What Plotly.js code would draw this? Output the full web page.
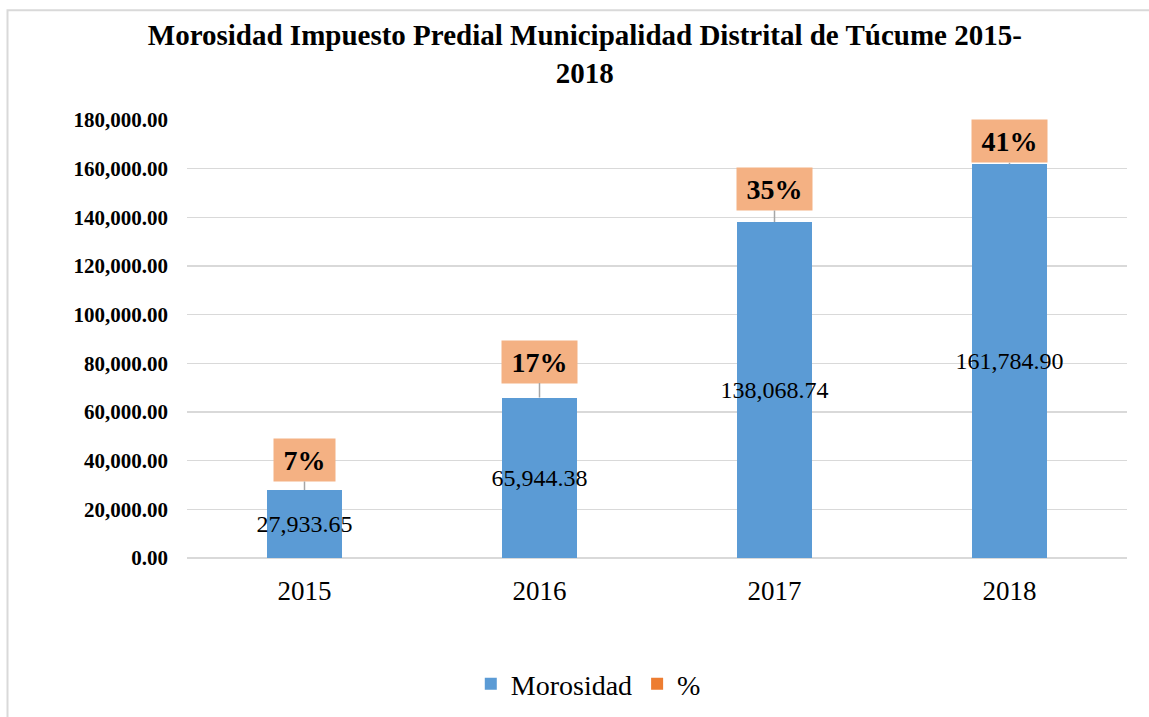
<!DOCTYPE html>
<html>
<head>
<meta charset="utf-8">
<script src="https://cdn.plot.ly/plotly-3.0.1.min.js"></script>
<style>
  html, body { margin: 0; padding: 0; background: #ffffff; }
  #chart { width: 1149px; height: 717px; }
</style>
</head>
<body>
<div id="chart"></div>
<script>
// ---- data ----
const years = ["2015", "2016", "2017", "2018"];
const morosidad = [27933.65, 65944.38, 138068.74, 161784.90];
const percent = [0.07, 0.17, 0.35, 0.41];
const percentLabels = ["7%", "17%", "35%", "41%"];

// ---- style ----
const FONT = "Liberation Serif, Times New Roman, serif";
const labelRise = [30, 36, 33, 23];   // vertical offset of % label centre above bar top (px)

const traces = [
  {
    type: "bar",
    name: "Morosidad",
    x: years,
    y: morosidad,
    marker: { color: "#5B9BD5" },
    texttemplate: "%{y:,.2f}",
    textposition: "inside",
    insidetextanchor: "middle",
    textangle: 0,
    constraintext: "none",
    textfont: { family: FONT, size: 24, color: "#000000" },
    hoverinfo: "x+y"
  },
  {
    type: "bar",
    name: "%",
    x: years,
    y: percent,
    marker: { color: "#ED7D31" },
    hoverinfo: "x+y"
  }
];

const annotations = years.map((yr, i) => ({
  x: i,
  y: morosidad[i],
  xref: "x",
  yref: "y",
  text: "<b>" + percentLabels[i] + "</b>",
  font: { family: FONT, size: 28, color: "#000000" },
  bgcolor: "#F4B183",
  borderpad: 3,
  width: percentLabels[i].length * 14 + 27,
  height: 36,
  showarrow: true,
  arrowhead: 0,
  arrowwidth: 1.5,
  arrowcolor: "#A6A6A6",
  ax: 0,
  ay: -labelRise[i],
  standoff: 0
}));

const layout = {
  width: 1149,
  height: 717,
  paper_bgcolor: "#ffffff",
  plot_bgcolor: "#ffffff",
  margin: { l: 187, r: 22, t: 120, b: 159, pad: 0 },
  barmode: "stack",
  bargap: 0.685,
  font: { family: FONT, color: "#000000" },
  title: {
    text: "<b>Morosidad Impuesto Predial Municipalidad Distrital de Túcume 2015-<br>2018</b>",
    font: { family: FONT, size: 29, color: "#000000" },
    x: 0.509,
    xref: "container",
    xanchor: "center",
    y: 1 - 45 / 717,
    yref: "container",
    yanchor: "top"
  },
  xaxis: {
    type: "category",
    categoryorder: "array",
    categoryarray: years,
    range: [-0.5, 3.5],
    showgrid: false,
    zeroline: false,
    showline: false,
    ticks: "",
    tickfont: { family: FONT, size: 27, color: "#000000" },
    ticklabelstandoff: 14
  },
  yaxis: {
    range: [0, 180000],
    dtick: 20000,
    tick0: 0,
    tickformat: ",.2f",
    showgrid: true,
    gridcolor: "#D9D9D9",
    gridwidth: 1.5,
    zeroline: true,
    zerolinecolor: "#D9D9D9",
    zerolinewidth: 1.5,
    showline: false,
    ticks: "",
    tickfont: { family: FONT, size: 21, color: "#000000", weight: "bold" },
    ticklabelstandoff: 18
  },
  legend: {
    orientation: "h",
    x: 0.512,
    xref: "container",
    xanchor: "center",
    yref: "container",
    yanchor: "middle",
    y: 1 - 684 / 717,
    font: { family: FONT, size: 28, color: "#000000" },
    traceorder: "normal",
    itemclick: false
  },
  annotations: annotations,
  shapes: [
    {
      type: "rect",
      xref: "paper",
      yref: "paper",
      x0: (7.5 - 187) / 940,
      x1: 1.3,
      y0: -0.6,
      y1: 1 + (120 - 10.3) / 438,
      line: { color: "#D9D9D9", width: 2 },
      fillcolor: "rgba(0,0,0,0)",
      layer: "below"
    }
  ],
  showlegend: true
};

Plotly.newPlot("chart", traces, layout, { displayModeBar: false, staticPlot: true });
</script>
</body>
</html>
